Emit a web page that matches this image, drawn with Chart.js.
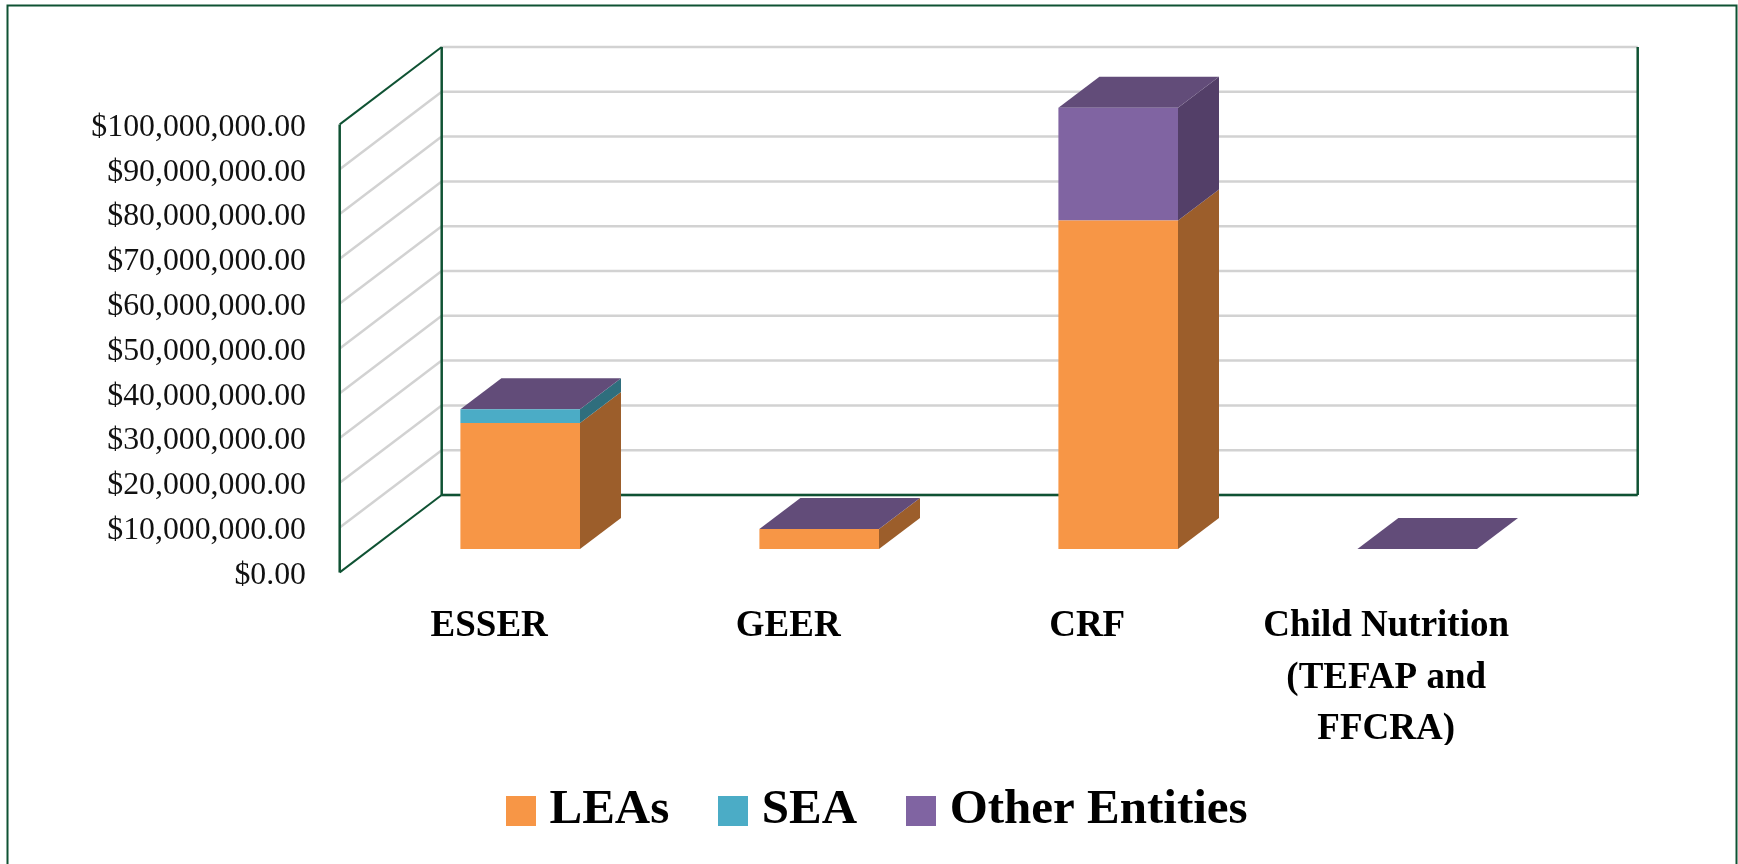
<!DOCTYPE html>
<html>
<head>
<meta charset="utf-8">
<title>Federal relief funds</title>
<style>
  html, body { margin: 0; padding: 0; background: #fff; overflow: hidden; }
  canvas { display: block; }
</style>
<script src="https://cdn.jsdelivr.net/npm/chart.js@4"></script>
</head>
<body>
<canvas id="myChart" width="1738" height="864"></canvas>
<script>
let categories = ["ESSER", "GEER", "CRF", ["Child Nutrition", "(TEFAP and", "FFCRA)"]];
let seriesNames = ["LEAs", "SEA", "Other Entities"];
let leas = [28100000, 4450000, 73300000, 0];
let sea = [3100000, 0, 0, 0];
let otherEntities = [0, 0, 25200000, 0];
let yMax = 100000000;
let yStep = 10000000;

let frontColors = ["#f79646", "#4bacc6", "#8064a2"];
let sideColors = ["#9c5e2b", "#2f6e7d", "#533f68"];
let topColor = "#624c79";
let wallColor = "#0f5233";
let gridColor = "#d2d2d2";
let serif = "'Liberation Serif', serif";

// the plot area is the plane of the bar fronts, walls sit in front of and behind it
let frontWall = { dx: -31, dy: 23.4 };
let backWall = { dx: 71, dy: -54 };
let barDepth = { dx: 41, dy: -31 };

function line(ctx, x1, y1, x2, y2) {
    ctx.beginPath();
    ctx.moveTo(x1, y1);
    ctx.lineTo(x2, y2);
    ctx.stroke();
}

function face(ctx, color, pts) {
    ctx.fillStyle = color;
    ctx.beginPath();
    pts.forEach((p, i) => i ? ctx.lineTo(p[0], p[1]) : ctx.moveTo(p[0], p[1]));
    ctx.closePath();
    ctx.fill();
}

function swatch(color) {
    let c = document.createElement("canvas");
    c.width = 30;
    c.height = 30;
    let g = c.getContext("2d");
    g.fillStyle = color;
    g.fillRect(0, 0, 30, 30);
    return c;
}
let swatches = frontColors.map(swatch);

let frame3d = {
    id: "frame3d",
    afterLayout(chart) {
        // move the legend to where it sits in the original
        chart.legend.left += 99;
        chart.legend.right += 99;
        chart.legend.top = 726;
    },
    beforeDatasetsDraw(chart) {
        let ctx = chart.ctx;
        let y = chart.scales.y;
        let a = chart.chartArea;
        let fx = a.left + frontWall.dx, fy = frontWall.dy;
        let bx = a.left + backWall.dx, by = backWall.dy;
        let rx = a.right + backWall.dx;

        ctx.save();
        // outer frame
        ctx.strokeStyle = wallColor;
        ctx.lineWidth = 2;
        ctx.strokeRect(7.5, 5.5, 1729, 900);

        // gridlines on the back wall and the side wall
        ctx.strokeStyle = gridColor;
        ctx.lineWidth = 2.5;
        y.ticks.forEach(t => {
            let p = y.getPixelForValue(t.value);
            line(ctx, bx, p + by, rx, p + by);
            if (t.value > 0 && t.value < yMax) line(ctx, fx, p + fy, bx, p + by);
        });

        // wall edges
        let top = y.getPixelForValue(yMax), zero = y.getPixelForValue(0);
        ctx.strokeStyle = wallColor;
        ctx.lineWidth = 2.5;
        line(ctx, bx, top + by, bx, zero + by);
        line(ctx, rx, top + by, rx, zero + by);
        line(ctx, bx, zero + by, rx, zero + by);
        line(ctx, fx, top + fy, fx, zero + fy);
        ctx.lineWidth = 2;
        line(ctx, fx, top + fy, bx, top + by);
        line(ctx, fx, zero + fy, bx, zero + by);

        // side faces of each bar, then the cap on top of the stack
        let metas = chart.data.datasets.map((d, i) => chart.getDatasetMeta(i));
        categories.forEach((c, j) => {
            metas.forEach((m, i) => {
                let el = m.data[j];
                let r = el.x + el.width / 2;
                face(ctx, sideColors[i], [
                    [r, el.y], [r + barDepth.dx, el.y + barDepth.dy],
                    [r + barDepth.dx, el.base + barDepth.dy], [r, el.base]
                ]);
            });
            let el = metas[metas.length - 1].data[j];
            let l = el.x - el.width / 2, r = el.x + el.width / 2;
            face(ctx, topColor, [
                [l, el.y], [r, el.y],
                [r + barDepth.dx, el.y + barDepth.dy], [l + barDepth.dx, el.y + barDepth.dy]
            ]);
        });
        ctx.restore();
    }
};

new Chart(document.getElementById("myChart"), {
    type: "bar",
    data: {
        labels: categories,
        datasets: [
            { label: seriesNames[0], data: leas, backgroundColor: frontColors[0] },
            { label: seriesNames[1], data: sea, backgroundColor: frontColors[1] },
            { label: seriesNames[2], data: otherEntities, backgroundColor: frontColors[2] }
        ]
    },
    options: {
        responsive: false,
        animation: false,
        barPercentage: 0.4,
        categoryPercentage: 1,
        layout: { padding: { top: 101, right: 171.3, bottom: 0, left: 0 } },
        scales: {
            x: {
                stacked: true,
                grid: { display: false, drawTicks: false },
                border: { display: false },
                afterFit(scale) { scale.height = 196; },
                ticks: {
                    autoSkip: false,
                    maxRotation: 0,
                    padding: 52,
                    labelOffset: frontWall.dx,
                    color: "#000",
                    font: { family: serif, size: 37, weight: "bold", lineHeight: 1.39 }
                }
            },
            y: {
                stacked: true,
                min: 0,
                max: yMax,
                grid: { display: false, drawTicks: false },
                border: { display: false },
                afterFit(scale) { scale.width = 370.7; },
                ticks: {
                    stepSize: yStep,
                    padding: 64.7,
                    labelOffset: frontWall.dy + 3,
                    color: "#111",
                    font: { family: serif, size: 31.8 },
                    callback: v => "$" + v.toLocaleString("en-US", { minimumFractionDigits: 2 })
                }
            }
        },
        plugins: {
            tooltip: { enabled: false },
            legend: {
                position: "bottom",
                labels: {
                    usePointStyle: true,
                    pointStyleWidth: 8,
                    boxHeight: 30,
                    padding: 60,
                    color: "#000",
                    font: { family: serif, size: 49, weight: "bold" },
                    generateLabels(chart) {
                        return Chart.defaults.plugins.legend.labels.generateLabels(chart)
                            .map((item, i) => ({ ...item, pointStyle: swatches[i] }));
                    }
                }
            }
        }
    },
    plugins: [frame3d]
});
</script>
</body>
</html>
